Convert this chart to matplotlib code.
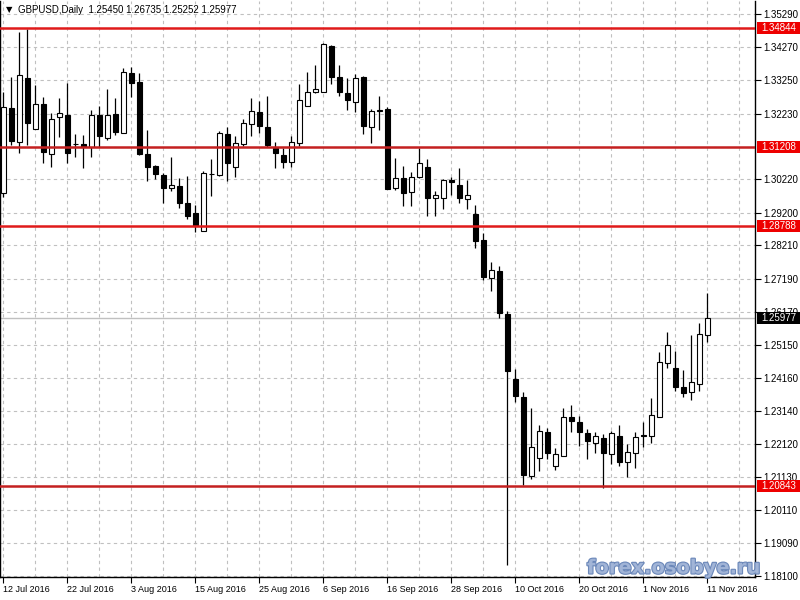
import matplotlib
matplotlib.use("Agg")
import matplotlib.pyplot as plt
from matplotlib.patches import Rectangle
import matplotlib.patheffects as pe
import numpy as np

# ---- data (GBPUSD daily, 12 Jul 2016 .. 11 Nov 2016) ----
opens = [1.2980, 1.3240, 1.3138, 1.3332, 1.3176, 1.3252, 1.3099, 1.3212, 1.3219, 1.3131,
         1.3131, 1.3120, 1.3219, 1.3150, 1.3222, 1.3165, 1.3349, 1.3321, 1.3100, 1.3064,
         1.3036, 1.2995, 1.3002, 1.2951, 1.2920, 1.2865, 1.3039, 1.3036, 1.3161, 1.3059,
         1.3130, 1.3191, 1.3228, 1.3182, 1.3117, 1.3097, 1.3076, 1.3135, 1.3248, 1.3289,
         1.3291, 1.3431, 1.3335, 1.3287, 1.3260, 1.3334, 1.3183, 1.3232, 1.3238, 1.2997,
         1.3026, 1.2985, 1.3029, 1.3060, 1.2964, 1.2966, 1.3020, 1.3005, 1.2961, 1.2916,
         1.2837, 1.2720, 1.2742, 1.2611, 1.2412, 1.2356, 1.2116, 1.2171, 1.2249, 1.2146,
         1.2177, 1.2295, 1.2281, 1.2246, 1.2215, 1.2230, 1.2181, 1.2237, 1.2159, 1.2184,
         1.2239, 1.2238, 1.2296, 1.2460, 1.2444, 1.2386, 1.2373, 1.2395, 1.25450]
highs = [1.3290, 1.3336, 1.3474, 1.3482, 1.3311, 1.3273, 1.3224, 1.3270, 1.3318, 1.3160,
         1.3158, 1.3235, 1.3247, 1.3299, 1.3270, 1.3362, 1.3367, 1.3347, 1.3173, 1.3066,
         1.3043, 1.3092, 1.3026, 1.3033, 1.2944, 1.3049, 1.3084, 1.3170, 1.3182, 1.3155,
         1.3207, 1.3270, 1.3263, 1.3277, 1.3136, 1.3117, 1.3155, 1.3314, 1.3350, 1.3372,
         1.3440, 1.3433, 1.3372, 1.3332, 1.3345, 1.3338, 1.3237, 1.3277, 1.3243, 1.3087,
         1.3063, 1.3046, 1.3117, 1.3084, 1.2987, 1.3023, 1.3031, 1.3058, 1.3020, 1.2944,
         1.2857, 1.2771, 1.2757, 1.2620, 1.2442, 1.2371, 1.2322, 1.2271, 1.2261, 1.2200,
         1.2322, 1.2332, 1.2299, 1.2258, 1.2250, 1.2243, 1.2254, 1.2271, 1.2213, 1.2250,
         1.2279, 1.2353, 1.2493, 1.2555, 1.2497, 1.2439, 1.2546, 1.2582, 1.26735]
lows = [1.2969, 1.3127, 1.3102, 1.3127, 1.3175, 1.3072, 1.3061, 1.3153, 1.3072, 1.3092,
        1.3056, 1.3092, 1.3122, 1.3143, 1.3158, 1.3164, 1.3275, 1.3097, 1.3018, 1.3022,
        1.2951, 1.2988, 1.2934, 1.2900, 1.2862, 1.2864, 1.2971, 1.3033, 1.3018, 1.3030,
        1.3124, 1.3155, 1.3165, 1.3122, 1.3056, 1.3056, 1.3061, 1.3125, 1.3247, 1.3286,
        1.3290, 1.3314, 1.3278, 1.3235, 1.3229, 1.3161, 1.3135, 1.3173, 1.2992, 1.2990,
        1.2942, 1.2942, 1.3028, 1.2911, 1.2911, 1.2932, 1.2975, 1.2951, 1.2932, 1.2813,
        1.2714, 1.2681, 1.2599, 1.1843, 1.2342, 1.2087, 1.2106, 1.2130, 1.2166, 1.2133,
        1.2176, 1.2250, 1.2208, 1.2167, 1.2184, 1.2079, 1.2152, 1.2146, 1.2113, 1.2140,
        1.2205, 1.2217, 1.2294, 1.2446, 1.2376, 1.2358, 1.2347, 1.2376, 1.25252]
closes = [1.3243, 1.3141, 1.3342, 1.3196, 1.3252, 1.3107, 1.3207, 1.3224, 1.3104, 1.3132,
          1.3120, 1.3219, 1.3156, 1.3219, 1.3168, 1.3350, 1.3318, 1.3100, 1.3059, 1.3038,
          1.2995, 1.3005, 1.2951, 1.2911, 1.2880, 1.3041, 1.3040, 1.3163, 1.3073, 1.3133,
          1.3194, 1.3232, 1.3187, 1.3127, 1.3102, 1.3076, 1.3136, 1.3265, 1.3289, 1.3298,
          1.3436, 1.3336, 1.3291, 1.3266, 1.3332, 1.3186, 1.3232, 1.3234, 1.2993, 1.3026,
          1.2982, 1.3029, 1.3071, 1.2966, 1.2975, 1.3020, 1.3015, 1.2964, 1.2975, 1.2835,
          1.2725, 1.2745, 1.2613, 1.2437, 1.2361, 1.2118, 1.2203, 1.2253, 1.2186, 1.2181,
          1.2296, 1.2284, 1.2250, 1.2223, 1.2237, 1.2186, 1.2247, 1.2159, 1.2187, 1.2235,
          1.2237, 1.2302, 1.2463, 1.2516, 1.2388, 1.2368, 1.2401, 1.2549, 1.25977]

date_labels = ["12 Jul 2016", "22 Jul 2016", "3 Aug 2016", "15 Aug 2016", "25 Aug 2016",
               "6 Sep 2016", "16 Sep 2016", "28 Sep 2016", "10 Oct 2016", "20 Oct 2016",
               "1 Nov 2016", "11 Nov 2016"]
date_label_bars = [0, 8, 16, 24, 32, 40, 48, 56, 64, 72, 80, 88]
price_ticks = [1.35290, 1.34270, 1.33250, 1.32230, 1.30220, 1.29200, 1.28210, 1.27190,
               1.26170, 1.25150, 1.24160, 1.23140, 1.22120, 1.21130, 1.20110, 1.19090, 1.18100]
levels = [1.34844, 1.31208, 1.28788, 1.20843]
level_colors = ['#e01a1a', '#c42020', '#e01a1a', '#c42020']
bid_price = 1.25977
header = "GBPUSD,Daily  1.25450 1.26735 1.25252 1.25977"

FONT = ['Liberation Sans', 'DejaVu Sans']
plt.rcParams['font.family'] = FONT

fig = plt.figure(figsize=(8, 6), dpi=100)
fig.patch.set_facecolor('white')
ax = fig.add_axes([0.0, 1 - 577 / 600, 755 / 800, 576 / 600])
ax.set_facecolor('white')

x = np.arange(len(opens))
o = np.array(opens)
c = np.array(closes)
up = c >= o
body_bottom = np.minimum(o, c)
body_h = np.maximum(np.abs(c - o), 0.00003)

# grid
grid_kw = dict(color='#c0c0c0', linewidth=0.8, linestyle=(0, (3, 3)), zorder=1)
for v in price_ticks + [1.31210]:
    ax.axhline(v, **grid_kw)
for b in range(0, 96, 4):
    ax.axvline(b, **grid_kw)

# candles
ax.vlines(x, lows, highs, color='black', linewidth=0.9, zorder=3)
ax.bar(x, body_h, bottom=body_bottom, width=0.64,
       color=np.where(up, 'white', 'black'), edgecolor='black', linewidth=0.8, zorder=4)

# horizontal levels
for lv, col in zip(levels, level_colors):
    ax.axhline(lv, color=col, linewidth=1.8, zorder=5)
ax.axhline(bid_price, color='#c0c0c0', linewidth=1.0, zorder=2)

ax.set_xlim(-0.41, 93.96)
ax.set_ylim(1.18060, 1.35679)

# axes styling
for s in ax.spines.values():
    s.set_color('black')
    s.set_linewidth(1.0)
ax.spines['top'].set_visible(False)
ax.yaxis.tick_right()
ax.set_yticks(price_ticks)
ax.set_yticklabels([f"{v:.5f}" for v in price_ticks])
ax.set_xticks(date_label_bars)
ax.set_xticklabels(date_labels, ha='left')
ax.tick_params(axis='y', which='major', length=4, width=0.8, pad=2, labelsize=7, colors='black')
ax.tick_params(axis='x', which='major', length=4, width=0.8, pad=2, labelsize=6.5, colors='black')

# price labels on the right axis
h = 12 / 3269.0
tr = ax.get_yaxis_transform()
for lv in levels:
    ax.add_patch(Rectangle((1.0 + 1.5 / 755, lv - h / 2), 45 / 755, h, transform=tr,
                           facecolor='#ee0000', edgecolor='none', clip_on=False, zorder=10))
    ax.text(1.0 + 6 / 755, lv, f"{lv:.5f}", transform=tr, ha='left', va='center',
            fontsize=7, color='white', clip_on=False, zorder=11)
ax.add_patch(Rectangle((1.0 + 1.5 / 755, bid_price - h / 2), 45 / 755, h, transform=tr,
                       facecolor='black', edgecolor='none', clip_on=False, zorder=10))
ax.text(1.0 + 6 / 755, bid_price, f"{bid_price:.5f}", transform=tr, ha='left', va='center',
        fontsize=7, color='white', clip_on=False, zorder=11)

# header
fig.text(6 / 800, 1 - 10 / 600, "\u25bc", fontsize=6, va='center', ha='left',
         family=['DejaVu Sans'])
fig.text(18 / 800, 1 - 10 / 600, header, fontsize=7, va='center', ha='left')

# watermark
fig.text(587 / 800, 1 - 568 / 600, "forex.osobye.ru", fontsize=14, fontweight='bold',
         color='#a3b6d8', va='center', ha='left', family=['DejaVu Sans'], alpha=0.95,
         path_effects=[pe.withStroke(linewidth=1.6, foreground='#6482b6')])

fig.savefig("out.png", dpi=100, facecolor='white')
